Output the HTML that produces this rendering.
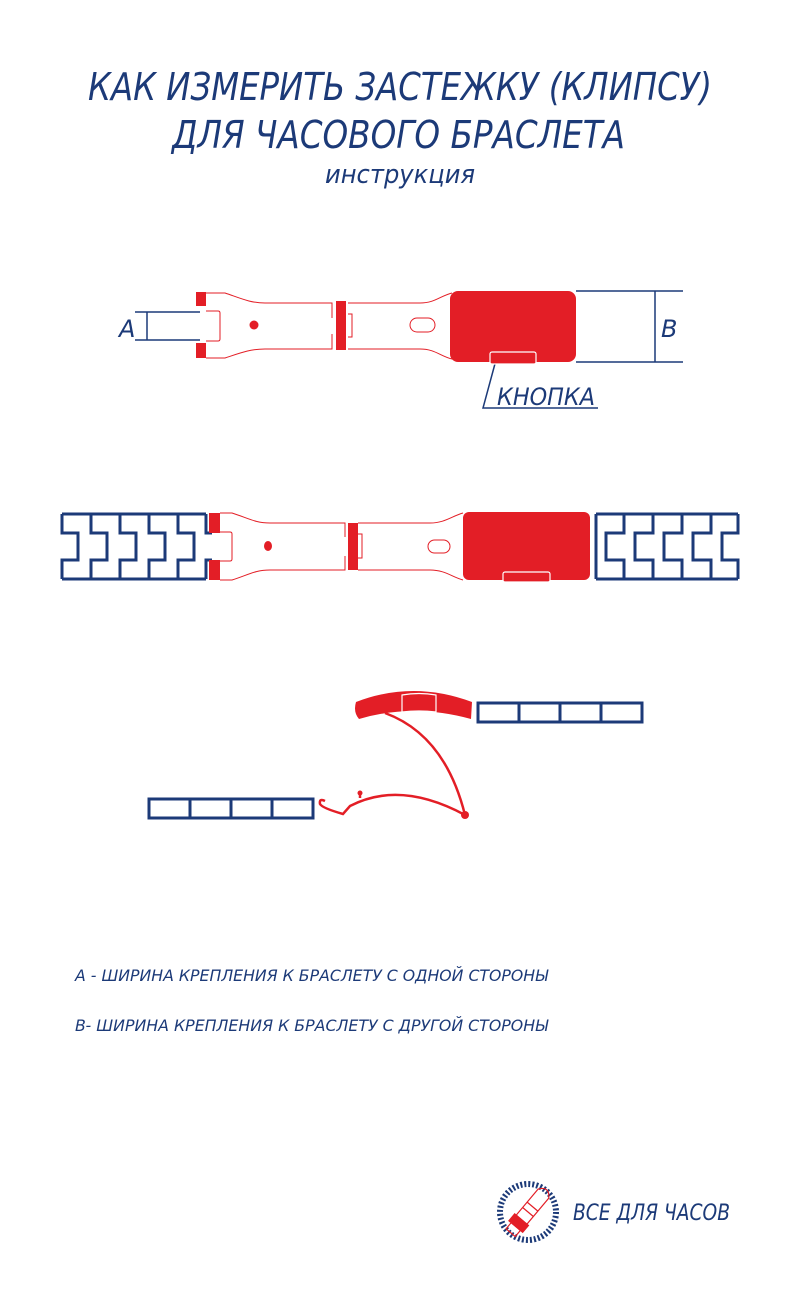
<!DOCTYPE html>
<html><head><meta charset="utf-8"><style>html,body{margin:0;padding:0;background:#fff}svg{display:block}.t{font-family:"DejaVu Sans ExtraLight","DejaVu Sans","Liberation Sans",sans-serif;font-weight:200;font-style:oblique}</style></head>
<body>
<svg width="800" height="1302" viewBox="0 0 800 1302" xmlns="http://www.w3.org/2000/svg" font-family="Liberation Sans, sans-serif" font-style="italic">
<g fill="#1c3a78" class="t">
<text class="t" x="88" y="100" font-size="38" textLength="624" lengthAdjust="spacingAndGlyphs">КАК ИЗМЕРИТЬ ЗАСТЕЖКУ (КЛИПСУ)</text>
<text class="t" x="172" y="148" font-size="38" textLength="453" lengthAdjust="spacingAndGlyphs">ДЛЯ ЧАСОВОГО БРАСЛЕТА</text>
<text class="t" x="325" y="183" font-size="26" textLength="150" lengthAdjust="spacingAndGlyphs">инструкция</text>
</g>

<!-- Diagram 1 -->
<g stroke="#1c3a78" stroke-width="1.5" fill="none">
<path d="M135 312H200M135 340H200M147 312V340"/>
<path d="M576 291H683M576 362H683M655 291V362"/>
<path d="M496 360L483 408H598"/>
</g>
<g fill="#1c3a78" font-size="24">
<text class="t" x="119" y="337">A</text>
<text class="t" x="661" y="337">B</text>
<text class="t" x="497" y="405" textLength="98" lengthAdjust="spacingAndGlyphs">КНОПКА</text>
</g>
<g stroke="#e31e26" stroke-width="1" fill="none">
<path d="M206 293H225C240 298 250 303 265 303H332V318M206 358H225C240 353 250 349 265 349H332V334"/>
<path d="M206 311H218Q220 311 220 313V339Q220 341 218 341H206"/>
<path d="M348 303H420C435 303 440 296 452 293M348 349H420C435 349 440 356 452 359"/>
<path d="M348 314H352V337H348"/>
<rect x="410" y="318" width="25" height="14" rx="7"/>
</g>
<g fill="#e31e26">
<rect x="196" y="292" width="10" height="14"/>
<rect x="196" y="343" width="10" height="15"/>
<rect x="336" y="301" width="10" height="49"/>
<circle cx="254" cy="325" r="4.5"/>
<rect x="450" y="291" width="126" height="71" rx="8"/>
</g>
<rect x="490" y="352" width="46" height="12" rx="2" fill="#e31e26" stroke="#fff" stroke-width="1.2"/>

<!-- Diagram 2 -->
<g stroke="#1c3a78" stroke-width="3" fill="none">
<path d="M62 514H206M62 579H206"/>
<path d="M62 514V533H78V560H62V579"/>
<path d="M91 514V533H107V560H91V579M120 514V533H136V560H120V579M149 514V533H165V560H149V579M178 514V533H194V560H178V579"/>
<path d="M206 514V533H212M206 579V560H212"/>
<path d="M596 514H738M596 579H738"/>
<path d="M596 514V579"/>
<path d="M624 514V533H606V560H624V579M653 514V533H635V560H653V579M682 514V533H664V560H682V579M711 514V533H693V560H711V579M738 514V533H722V560H738V579"/>
</g>
<g stroke="#e31e26" stroke-width="1" fill="none">
<path d="M220 513H232C248 518 255 523 270 523H345V537M220 580H232C248 575 255 570 270 570H345V556"/>
<path d="M220 532H230Q232 532 232 534V559Q232 561 230 561H220"/>
<path d="M358 523H430C445 523 452 516 463 513M358 570H430C445 570 452 577 463 580"/>
<path d="M358 534H362V558H358"/>
<rect x="428" y="540" width="22" height="13" rx="6.5"/>
</g>
<g fill="#e31e26">
<rect x="209" y="513" width="11" height="20"/>
<rect x="209" y="560" width="11" height="20"/>
<rect x="348" y="523" width="10" height="47"/>
<ellipse cx="268" cy="546" rx="4" ry="5"/>
<rect x="463" y="512" width="127" height="68" rx="6"/>
</g>
<rect x="503" y="572" width="47" height="10" rx="2" fill="#e31e26" stroke="#fff" stroke-width="1.2"/>

<!-- Diagram 3 -->
<g stroke="#1c3a78" stroke-width="3" fill="none">
<rect x="478" y="703" width="164" height="19"/>
<path d="M519 703V722M560 703V722M601 703V722"/>
<rect x="149" y="799" width="164" height="19"/>
<path d="M190 799V818M231 799V818M272 799V818"/>
</g>
<path d="M356 702Q413 680 472 702L471 719Q413 703 359 719Q353 712 356 702Z" fill="#e31e26"/>
<path d="M402 695Q419 692 436 695V712Q419 710 402 712Z" fill="#e31e26" stroke="#fff" stroke-width="1.2"/>
<g stroke="#e31e26" stroke-width="2.5" fill="none">
<path d="M385 713Q445 735 465 815"/>
<path d="M325 801Q319 798 320 804Q322 808 343 814L350 806Q400 780 465 815"/>
<path d="M360 798V793"/>
</g>
<circle cx="465" cy="815" r="4" fill="#e31e26"/>
<circle cx="360" cy="793" r="2.5" fill="#e31e26"/>

<!-- Legend -->
<g fill="#1c3a78" font-size="16">
<text class="t" x="75" y="981" textLength="473" lengthAdjust="spacingAndGlyphs">A - ШИРИНА КРЕПЛЕНИЯ К БРАСЛЕТУ С ОДНОЙ СТОРОНЫ</text>
<text class="t" x="75" y="1031" textLength="473" lengthAdjust="spacingAndGlyphs">B- ШИРИНА КРЕПЛЕНИЯ К БРАСЛЕТУ С ДРУГОЙ СТОРОНЫ</text>
</g>

<!-- Logo -->
<circle cx="528" cy="1212" r="28" fill="none" stroke="#1c3a78" stroke-width="6" stroke-dasharray="2 2"/>
<circle cx="528" cy="1212" r="24" fill="#fff"/>
<g stroke="#e31e26" stroke-width="1.2" fill="none" transform="rotate(40 528 1212)">
<path d="M521 1188Q528 1178 535 1188V1222H521Z"/>
<path d="M521 1205H535M521 1212H535"/>
<rect x="519" y="1222" width="18" height="9" fill="#e31e26"/>
<rect x="522" y="1231" width="12" height="8"/>
</g>
<text class="t" x="573" y="1220" font-size="22" fill="#1c3a78" textLength="157" lengthAdjust="spacingAndGlyphs">ВСЕ ДЛЯ ЧАСОВ</text>
</svg>
</body></html>
